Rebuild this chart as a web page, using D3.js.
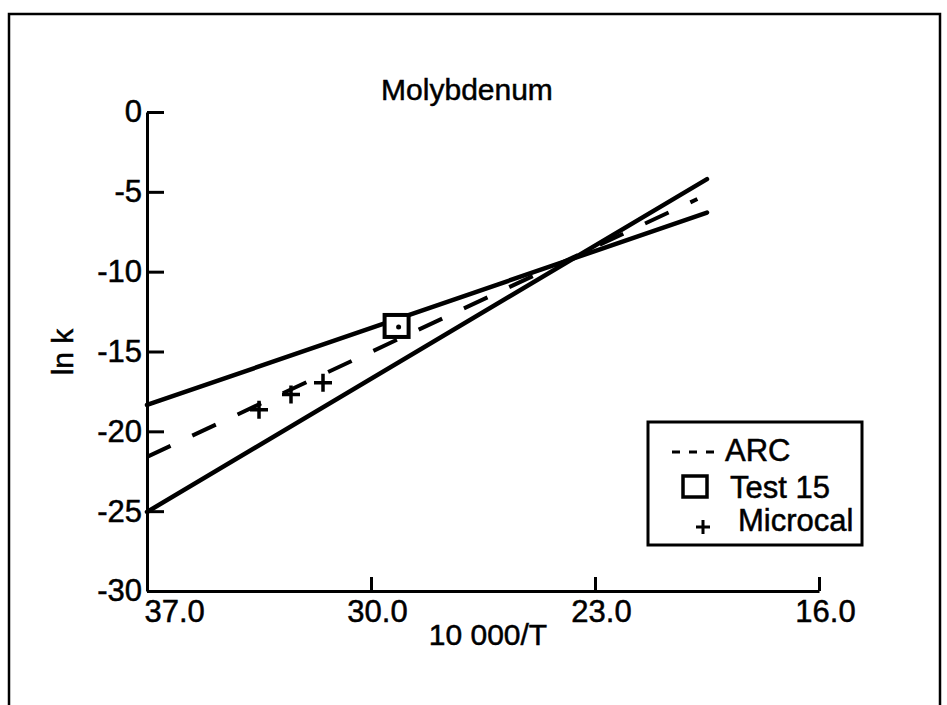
<!DOCTYPE html>
<html>
<head>
<meta charset="utf-8">
<script src="https://cdn.jsdelivr.net/npm/d3@7"></script>
<style>
  body { margin: 0; background: #fff; }
  text { font-family: "Liberation Sans", Arial, Helvetica, sans-serif; fill: #000; stroke: #000; stroke-width: 0.5px; }
  .axis path, .axis line { stroke: #000; stroke-width: 3; }
  .axis text { font-size: 31px; }
</style>
</head>
<body>
<div id="chart"></div>
<script>
// Molybdenum: ln k against 10 000/T

// tick values
var xTicks = [37.0, 30.0, 23.0, 16.0];
var yTicks = [0, -5, -10, -15, -20, -25, -30];

// fitted lines (end points)
var fitX = [37.0, 19.5];
var upperFitY = [-18.35, -6.3];
var lowerFitY = [-25.05, -4.2];
var arcX = [37.0, 19.8];
var arcY = [-21.6, -5.45];

// measured points
var test15X = [29.2];
var test15Y = [-13.4];
var microcalX = [33.5, 32.5, 31.5];
var microcalY = [-18.65, -17.7, -16.95];

var legendNames = ["ARC", "Test 15", "Microcal"];

var width = 947;
var height = 705;

var svg = d3.select("#chart")
  .append("svg")
  .attr("width", width)
  .attr("height", height);

// frame round the figure
svg.append("path")
  .attr("d", "M9,705 V14 H940 V705")
  .attr("fill", "none")
  .attr("stroke", "#000")
  .attr("stroke-width", 2.5);

// scales
var x = d3.scaleLinear().domain([37, 16]).range([147, 819]);
var y = d3.scaleLinear().domain([0, -30]).range([112, 591]);

// plain hyphen for the minus sign, as on the original
var yFormat = function(d) { return String(d); };

// y axis, ticks pointing inwards
svg.append("g")
  .attr("class", "axis")
  .attr("transform", "translate(" + x(37) + ",0)")
  .call(d3.axisLeft(y)
    .tickValues(yTicks)
    .tickSize(-17)
    .tickSizeOuter(0)
    .tickPadding(5)
    .tickFormat(yFormat));

// x axis
var xAxis = svg.append("g")
  .attr("class", "axis")
  .attr("transform", "translate(0," + y(-30) + ")")
  .call(d3.axisBottom(x)
    .tickValues(xTicks)
    .tickSize(-14)
    .tickSizeOuter(0)
    .tickPadding(9)
    .tickFormat(d3.format(".1f")));

xAxis.selectAll(".tick text")
  .attr("dx", 6);
// first label starts at the corner
xAxis.selectAll(".tick text")
  .filter(function(d) { return d == 37; })
  .attr("text-anchor", "start")
  .attr("dx", -3);
// no tick mark at the corner
xAxis.selectAll(".tick line")
  .filter(function(d) { return d == 37; })
  .remove();

// titles
svg.append("text")
  .attr("x", 467)
  .attr("y", 100)
  .attr("text-anchor", "middle")
  .style("font-size", "30px")
  .text("Molybdenum");

svg.append("text")
  .attr("x", 488)
  .attr("y", 645)
  .attr("text-anchor", "middle")
  .style("font-size", "30px")
  .text("10 000/T");

svg.append("text")
  .attr("transform", "translate(73,352) rotate(-90)")
  .attr("text-anchor", "middle")
  .style("font-size", "30px")
  .text("ln k");

// lines
var line = d3.line()
  .x(function(d) { return x(d[0]); })
  .y(function(d) { return y(d[1]); });

svg.append("path")
  .attr("d", line(d3.zip(fitX, upperFitY)))
  .attr("fill", "none")
  .attr("stroke", "#000")
  .attr("stroke-width", 4.5)
  .attr("stroke-linecap", "round");

svg.append("path")
  .attr("d", line(d3.zip(fitX, lowerFitY)))
  .attr("fill", "none")
  .attr("stroke", "#000")
  .attr("stroke-width", 4.5)
  .attr("stroke-linecap", "round");

svg.append("path")
  .attr("d", line(d3.zip(arcX, arcY)))
  .attr("fill", "none")
  .attr("stroke", "#000")
  .attr("stroke-width", 4)
  .attr("stroke-dasharray", "26,24");

// Test 15 square with dot
var sq = svg.selectAll(".test15")
  .data(d3.zip(test15X, test15Y))
  .enter()
  .append("g")
  .attr("class", "test15")
  .attr("transform", function(d) { return "translate(" + x(d[0]) + "," + y(d[1]) + ")"; });

sq.append("rect")
  .attr("x", -12)
  .attr("y", -11)
  .attr("width", 24)
  .attr("height", 22)
  .attr("fill", "#fff")
  .attr("stroke", "#000")
  .attr("stroke-width", 4);

sq.append("circle")
  .attr("cx", 2)
  .attr("cy", 1)
  .attr("r", 2.5)
  .attr("fill", "#000");

// Microcal crosses
svg.selectAll(".microcal")
  .data(d3.zip(microcalX, microcalY))
  .enter()
  .append("path")
  .attr("class", "microcal")
  .attr("d", function(d) {
    var cx = x(d[0]), cy = y(d[1]);
    return "M" + (cx - 9) + "," + cy + "H" + (cx + 9) +
      "M" + cx + "," + (cy - 9) + "V" + (cy + 9);
  })
  .attr("stroke", "#000")
  .attr("stroke-width", 3.5);

// legend
var legend = svg.append("g");

legend.append("rect")
  .attr("x", 648)
  .attr("y", 422)
  .attr("width", 214)
  .attr("height", 123)
  .attr("fill", "#fff")
  .attr("stroke", "#000")
  .attr("stroke-width", 3);

legend.append("line")
  .attr("x1", 672)
  .attr("x2", 722)
  .attr("y1", 452)
  .attr("y2", 452)
  .attr("stroke", "#000")
  .attr("stroke-width", 3)
  .attr("stroke-dasharray", "8,9");

legend.append("rect")
  .attr("x", 683)
  .attr("y", 476)
  .attr("width", 24)
  .attr("height", 21)
  .attr("fill", "none")
  .attr("stroke", "#000")
  .attr("stroke-width", 3.5);

legend.append("path")
  .attr("d", "M696,527 H710 M703,520 V534")
  .attr("stroke", "#000")
  .attr("stroke-width", 3);

var legendX = [725, 730, 738];
var legendY = [461, 498, 531];

legend.selectAll(".legtext")
  .data(legendNames)
  .enter()
  .append("text")
  .attr("class", "legtext")
  .attr("x", function(d, i) { return legendX[i]; })
  .attr("y", function(d, i) { return legendY[i]; })
  .style("font-size", "31px")
  .text(function(d) { return d; });
</script>
</body>
</html>
